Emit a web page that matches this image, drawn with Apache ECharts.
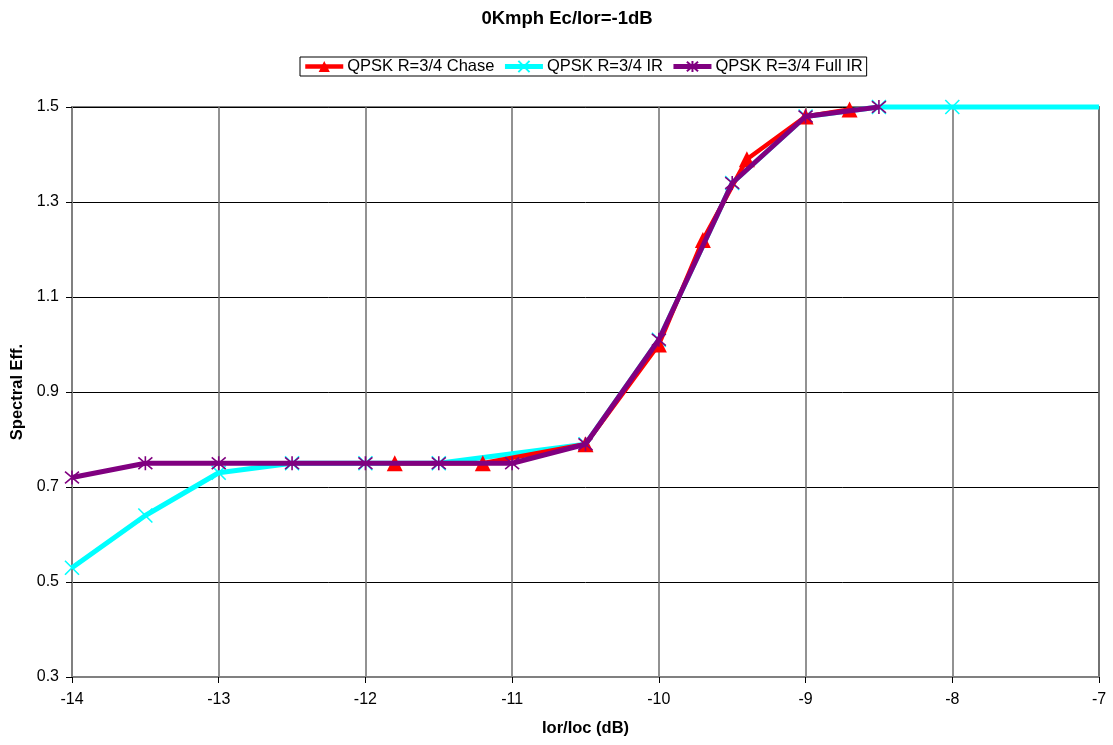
<!DOCTYPE html>
<html>
<head>
<meta charset="utf-8">
<title>0Kmph Ec/Ior=-1dB</title>
<script src="https://cdn.jsdelivr.net/npm/echarts@6/dist/echarts.min.js"></script>
<style>
  html, body { margin: 0; padding: 0; background: #fff; }
  #chart { width: 1113px; height: 745px; }
</style>
</head>
<body>
<div id="chart"></div>
<script>
// Spectral efficiency vs Ior/Ioc (dB), QPSK R=3/4, three combining schemes
const chaseX = [-11.8, -11.2, -10.5, -10.0, -9.7, -9.4, -9.0, -8.7];
const chaseY = [0.75, 0.75, 0.79, 1.00, 1.22, 1.39, 1.48, 1.495];

const irX = [-14.0, -13.5, -13.0, -12.5, -12.0, -11.5, -10.5, -10.0, -9.5, -9.0, -8.5, -8.0, -7.0];
const irY = [0.53, 0.64, 0.73, 0.75, 0.75, 0.75, 0.79, 1.01, 1.34, 1.48, 1.50, 1.50, 1.50];

const fullIrX = [-14.0, -13.5, -13.0, -12.5, -12.0, -11.5, -11.0, -10.5, -10.0, -9.5, -9.0, -8.5];
const fullIrY = [0.72, 0.75, 0.75, 0.75, 0.75, 0.75, 0.75, 0.79, 1.01, 1.34, 1.48, 1.50];

const seriesNames = ['QPSK R=3/4 Chase', 'QPSK R=3/4 IR', 'QPSK R=3/4 Full IR'];

const pairs = (xs, ys) => xs.map((x, i) => [x, ys[i]]);

const FONT = '"Liberation Sans", Arial, sans-serif';
const X_MARK = 'path://M0,0L10,10M10,0L0,10';
const STAR_MARK = 'path://M0,0L10,10M10,0L0,10M5,-1L5,11';

const chart = echarts.init(document.getElementById('chart'), null, { renderer: 'canvas' });

chart.setOption({
  backgroundColor: '#fff',
  animation: false,
  textStyle: { fontFamily: FONT },
  title: {
    text: '0Kmph Ec/Ior=-1dB',
    left: 562,
    textAlign: 'center',
    top: 4,
    textStyle: { fontFamily: FONT, fontSize: 18.5, fontWeight: 'bold', color: '#000' }
  },
  legend: {
    top: 57,
    left: 300,
    data: seriesNames,
    borderColor: '#000',
    borderWidth: 1,
    padding: [1, 4, 1, 3],
    itemGap: 8,
    itemWidth: 38,
    itemHeight: 14,
    lineStyle: { width: 'inherit' },
    textStyle: { fontFamily: FONT, fontSize: 16.5, color: '#000', padding: [0, 0, 0, -1] }
  },
  grid: {
    left: 72, right: 14, top: 107, bottom: 68,
    show: true,
    borderColor: '#808080',
    borderWidth: 2
  },
  xAxis: {
    type: 'value',
    min: -14, max: -7, interval: 1,
    name: 'Ior/Ioc (dB)',
    nameLocation: 'middle',
    nameGap: 43,
    nameTextStyle: { fontFamily: FONT, fontSize: 16.5, fontWeight: 'bold', color: '#000' },
    axisLine: { show: true, onZero: false, lineStyle: { color: '#808080', width: 2 } },
    axisTick: { show: true, inside: false, length: 6, lineStyle: { color: '#000', width: 1 } },
    axisLabel: { margin: 15, fontFamily: FONT, fontSize: 16, color: '#000' },
    splitLine: { show: true, lineStyle: { color: '#6e6e6e', width: 1.5 } }
  },
  yAxis: {
    type: 'value',
    min: 0.3, max: 1.5, interval: 0.2,
    name: 'Spectral Eff.',
    nameLocation: 'middle',
    nameGap: 45,
    nameTextStyle: { fontFamily: FONT, fontSize: 16.5, fontWeight: 'bold', color: '#000' },
    axisLine: { show: true, onZero: false, lineStyle: { color: '#808080', width: 2 } },
    axisTick: { show: true, inside: false, length: 6, lineStyle: { color: '#000', width: 1 } },
    axisLabel: {
      margin: 13, fontFamily: FONT, fontSize: 16, color: '#000',
      formatter: v => v.toFixed(1)
    },
    splitLine: { show: true, lineStyle: { color: '#000', width: 1 } }
  },
  series: [
    {
      name: seriesNames[1],
      type: 'line',
      data: pairs(irX, irY).map((p, i) => i === irX.length - 1 ? { value: p, symbol: 'none' } : p),
      symbol: X_MARK,
      symbolSize: 14,
      showAllSymbol: true,
      clip: false,
      z: 2,
      lineStyle: { color: '#00FFFF', width: 5 },
      itemStyle: { color: '#00FFFF', borderColor: '#00FFFF', borderWidth: 1.6 }
    },
    {
      name: seriesNames[0],
      type: 'line',
      data: pairs(chaseX, chaseY),
      symbol: 'triangle',
      symbolSize: 16,
      showAllSymbol: true,
      z: 3,
      lineStyle: { color: '#FF0000', width: 4.5 },
      itemStyle: { color: '#FF0000', borderColor: '#FF0000', borderWidth: 0 }
    },
    {
      name: seriesNames[2],
      type: 'line',
      data: pairs(fullIrX, fullIrY),
      symbol: STAR_MARK,
      symbolSize: 14,
      showAllSymbol: true,
      z: 4,
      lineStyle: { color: '#800080', width: 5 },
      itemStyle: { color: '#800080', borderColor: '#800080', borderWidth: 1.6 }
    }
  ]
});
</script>
</body>
</html>
